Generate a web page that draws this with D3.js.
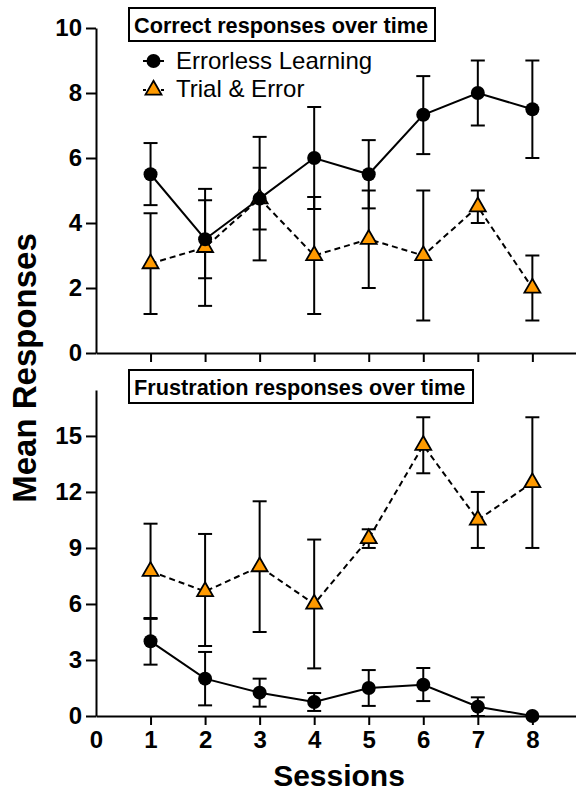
<!DOCTYPE html>
<html>
<head>
<meta charset="utf-8">
<script src="https://cdn.jsdelivr.net/npm/d3@7"></script>
<style>
  body { margin: 0; background: #fff; }
  text { font-family: "Liberation Sans", Arial, Helvetica, sans-serif; }
</style>
</head>
<body>
<script>
// sessions on the x axis
var sessions = [1, 2, 3, 4, 5, 6, 7, 8];
var seriesNames = ['Errorless Learning', 'Trial & Error'];

// top panel: correct responses (mean, lower and upper end of error bar)
var correctEL   = [5.5, 3.5, 4.75, 6.0, 5.5, 7.33, 8.0, 7.5];
var correctELlo = [4.55, 2.3, 2.85, 4.43, 4.45, 6.12, 7.0, 6.0];
var correctELhi = [6.46, 5.05, 6.65, 7.57, 6.55, 8.52, 9.0, 9.0];
var correctTE   = [2.75, 3.25, 4.75, 3.0, 3.5, 3.0, 4.5, 2.0];
var correctTElo = [1.2, 1.45, 3.8, 1.2, 2.0, 1.0, 4.0, 1.0];
var correctTEhi = [4.3, 4.7, 5.7, 4.8, 5.0, 5.0, 5.0, 3.0];

// bottom panel: frustration responses
var frustEL   = [4.0, 2.0, 1.25, 0.75, 1.5, 1.67, 0.5, 0];
var frustELlo = [2.75, 0.57, 0.5, 0.27, 0.54, 0.8, 0, 0];
var frustELhi = [5.25, 3.43, 2.0, 1.23, 2.46, 2.57, 1.0, 0];
var frustTE   = [7.75, 6.67, 8.0, 6.0, 9.5, 14.5, 10.5, 12.5];
var frustTElo = [5.2, 3.75, 4.5, 2.55, 9.0, 13.0, 9.0, 9.0];
var frustTEhi = [10.3, 9.75, 11.5, 9.45, 10.0, 16.0, 12.0, 16.0];

var topTicks = [0, 2, 4, 6, 8, 10];
var bottomTicks = [0, 3, 6, 9, 12, 15];
var xTicks = [0, 1, 2, 3, 4, 5, 6, 7, 8];

var orange = '#FF9A00';

var svg = d3.select('body').append('svg').attr('width', 576).attr('height', 795);

var x = d3.scaleLinear().domain([0, 8.8]).range([96, 576]);

function toRows(m, lo, hi) {
  return sessions.map(function(s, i) { return { s: s, v: m[i], lo: lo[i], hi: hi[i] }; });
}

function panel(y0, y1, ymax, yticks, title, boxW, el, te, showXLabels) {
  var y = d3.scaleLinear().domain([0, ymax]).range([y0, y1]);
  var g = svg.append('g');

  // y axis
  var ya = g.append('g').attr('transform', 'translate(96,0)')
    .call(d3.axisLeft(y).tickValues(yticks).tickSize(10).tickPadding(4).tickSizeOuter(0));
  ya.select('.domain').attr('stroke', '#000').attr('stroke-width', 2);
  ya.selectAll('.tick line').attr('stroke', '#000').attr('stroke-width', 2);
  ya.selectAll('.tick text').attr('font-size', 24).attr('font-weight', 'bold').attr('fill', '#000')
    .attr('font-family', '"Liberation Sans", Arial, sans-serif');

  // x axis
  var xa = g.append('g').attr('transform', 'translate(0,' + y0 + ')')
    .call(d3.axisBottom(x).tickValues(showXLabels ? xTicks : sessions).tickSize(9).tickPadding(6).tickSizeOuter(0)
      .tickFormat(showXLabels ? d3.format('d') : ''));
  xa.select('.domain').attr('stroke', '#000').attr('stroke-width', 2);
  xa.selectAll('.tick line').attr('stroke', '#000').attr('stroke-width', 2);
  xa.selectAll('.tick').filter(function(d) { return d === 0; }).select('line').remove();
  xa.selectAll('.tick text').attr('font-size', 24).attr('font-weight', 'bold').attr('fill', '#000')
    .attr('font-family', '"Liberation Sans", Arial, sans-serif');

  // title box
  var ty = y1 - 20;
  g.append('rect').attr('x', 129).attr('y', ty).attr('width', boxW).attr('height', 33)
    .attr('fill', '#fff').attr('stroke', '#000').attr('stroke-width', 2);
  g.append('text').attr('x', 134).attr('y', ty + 25).attr('font-size', 21.7).attr('font-weight', 'bold')
    .text(title);

  // error bars
  var both = el.concat(te).filter(function(d) { return d.hi > d.lo; });
  var eb = g.append('g').attr('stroke', '#000').attr('stroke-width', 2).attr('fill', 'none');
  eb.selectAll('line.v').data(both).enter().append('line').attr('class', 'v')
    .attr('x1', function(d) { return x(d.s); }).attr('x2', function(d) { return x(d.s); })
    .attr('y1', function(d) { return y(d.lo); }).attr('y2', function(d) { return y(d.hi); });
  eb.selectAll('line.lo').data(both).enter().append('line').attr('class', 'lo')
    .attr('x1', function(d) { return x(d.s) - 7; }).attr('x2', function(d) { return x(d.s) + 7; })
    .attr('y1', function(d) { return y(d.lo); }).attr('y2', function(d) { return y(d.lo); });
  eb.selectAll('line.hi').data(both).enter().append('line').attr('class', 'hi')
    .attr('x1', function(d) { return x(d.s) - 7; }).attr('x2', function(d) { return x(d.s) + 7; })
    .attr('y1', function(d) { return y(d.hi); }).attr('y2', function(d) { return y(d.hi); });

  var line = d3.line().x(function(d) { return x(d.s); }).y(function(d) { return y(d.v); });
  g.append('path').datum(te).attr('d', line).attr('fill', 'none').attr('stroke', '#000')
    .attr('stroke-width', 2).attr('stroke-dasharray', '6,4');
  g.append('path').datum(el).attr('d', line).attr('fill', 'none').attr('stroke', '#000')
    .attr('stroke-width', 2);

  var tri = d3.symbol().type(d3.symbolTriangle).size(110);
  g.selectAll('path.tri').data(te).enter().append('path').attr('class', 'tri')
    .attr('transform', function(d) { return 'translate(' + x(d.s) + ',' + y(d.v) + ')'; })
    .attr('d', tri).attr('fill', orange).attr('stroke', '#000').attr('stroke-width', 1.8);
  g.selectAll('circle.el').data(el).enter().append('circle').attr('class', 'el')
    .attr('cx', function(d) { return x(d.s); }).attr('cy', function(d) { return y(d.v); })
    .attr('r', 7).attr('fill', '#000');
}

panel(353, 28, 10, topTicks, 'Correct responses over time', 306,
  toRows(correctEL, correctELlo, correctELhi), toRows(correctTE, correctTElo, correctTEhi), false);
panel(716, 390, 17.46, bottomTicks, 'Frustration responses over time', 344,
  toRows(frustEL, frustELlo, frustELhi), toRows(frustTE, frustTElo, frustTEhi), true);

// legend
var leg = svg.append('g');
leg.append('line').attr('x1', 143).attr('x2', 164).attr('y1', 61).attr('y2', 61)
  .attr('stroke', '#000').attr('stroke-width', 2);
leg.append('circle').attr('cx', 153.5).attr('cy', 61).attr('r', 7).attr('fill', '#000');
leg.append('line').attr('x1', 143).attr('x2', 164).attr('y1', 90).attr('y2', 90)
  .attr('stroke', '#000').attr('stroke-width', 2).attr('stroke-dasharray', '3,3');
leg.append('path').attr('transform', 'translate(153.5,90)')
  .attr('d', d3.symbol().type(d3.symbolTriangle).size(110))
  .attr('fill', orange).attr('stroke', '#000').attr('stroke-width', 1.8);
leg.selectAll('text').data(seriesNames).enter().append('text')
  .attr('x', 176).attr('y', function(d, i) { return 69 + i * 28; })
  .attr('font-size', 24).text(function(d) { return d; });

// axis titles
svg.append('text').attr('transform', 'translate(36,368) rotate(-90)').attr('text-anchor', 'middle')
  .attr('font-size', 33).attr('font-weight', 'bold').text('Mean Responses');
svg.append('text').attr('x', 339).attr('y', 786).attr('text-anchor', 'middle')
  .attr('font-size', 30).attr('font-weight', 'bold').text('Sessions');
</script>
</body>
</html>
